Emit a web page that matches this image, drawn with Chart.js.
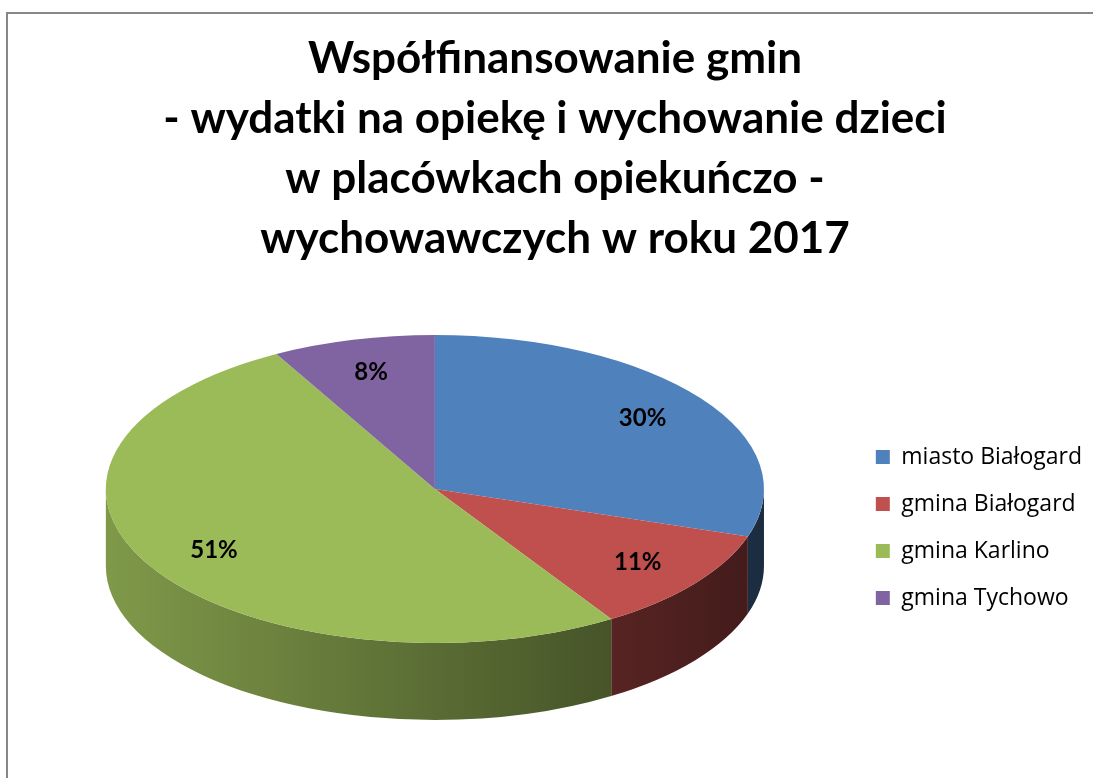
<!DOCTYPE html>
<html>
<head>
<meta charset="utf-8">
<script src="https://cdn.jsdelivr.net/npm/chart.js@4.4.1/dist/chart.umd.min.js"></script>
<style>
  html, body { margin: 0; padding: 0; background: #fff; }
  #wrap { position: relative; width: 1093px; height: 778px; overflow: hidden; }
  #frame { position: absolute; left: 6px; top: 12px; width: 1200px; height: 900px;
           border-left: 2px solid #878787; border-top: 2px solid #878787; }
  #chart { position: absolute; left: 0; top: 0; }
</style>
</head>
<body>
<div id="wrap">
  <div id="frame"></div>
  <canvas id="chart" width="1093" height="778"></canvas>
</div>
<script>
const titleLines = [
  "Współfinansowanie gmin",
  "- wydatki na opiekę i wychowanie dzieci",
  "w placówkach opiekuńczo -",
  "wychowawczych w roku 2017"
];
const categories = ["miasto Białogard", "gmina Białogard", "gmina Karlino", "gmina Tychowo"];
const shares = [30, 11, 51, 8];
const sliceColors = ["#4f81bd", "#c0504d", "#9bbb59", "#8064a2"];

// look of the tilted pie: height/width of the top face and thickness
const TILT = 0.468;
const DEPTH = 0.234;
const LABEL_POS = 0.78;

function shade(hex, f) {
  const n = parseInt(hex.slice(1), 16);
  const r = Math.round(((n >> 16) & 255) * f);
  const g = Math.round(((n >> 8) & 255) * f);
  const b = Math.round((n & 255) * f);
  return `rgb(${r},${g},${b})`;
}

const pie3d = {
  id: "pie3d",
  beforeDatasetsDraw(chart) {
    const ctx = chart.ctx;
    const area = chart.chartArea;
    const arcs = chart.getDatasetMeta(0).data;
    const rx = (area.bottom - area.top) / (2 * TILT + DEPTH);
    const ry = rx * TILT;
    const dz = rx * DEPTH;
    const cx = (area.left + area.right) / 2;
    const cy = area.top + ry;
    chart.$ell = { cx, cy, rx, ry, dz };

    // side walls, only the front half is visible
    arcs.forEach((arc, i) => {
      const s = Math.max(arc.startAngle, 0);
      const e = Math.min(arc.endAngle, Math.PI);
      if (e <= s) return;
      const grad = ctx.createLinearGradient(cx - rx, 0, cx + rx, 0);
      grad.addColorStop(0, shade(sliceColors[i], 0.82));
      grad.addColorStop(0.5, shade(sliceColors[i], 0.58));
      grad.addColorStop(1, shade(sliceColors[i], 0.34));
      ctx.beginPath();
      ctx.ellipse(cx, cy, rx, ry, 0, s, e);
      ctx.ellipse(cx, cy + dz, rx, ry, 0, e, s, true);
      ctx.closePath();
      ctx.fillStyle = grad;
      ctx.fill();
    });

    // squash the library's round pie onto the top face
    const a0 = arcs[0];
    const R = a0.outerRadius;
    ctx.save();
    ctx.translate(cx, cy);
    ctx.scale(rx / R, ry / R);
    ctx.translate(-a0.x, -a0.y);
  },
  afterDatasetsDraw(chart) {
    const ctx = chart.ctx;
    ctx.restore();
    const { cx, cy, rx, ry } = chart.$ell;
    const arcs = chart.getDatasetMeta(0).data;
    const total = shares.reduce((a, b) => a + b, 0);
    ctx.save();
    ctx.font = "bold 24px Lato";
    ctx.fillStyle = "#000";
    ctx.textAlign = "center";
    ctx.textBaseline = "middle";
    arcs.forEach((arc, i) => {
      const mid = (arc.startAngle + arc.endAngle) / 2;
      const x = cx + LABEL_POS * rx * Math.cos(mid);
      const y = cy + LABEL_POS * ry * Math.sin(mid);
      ctx.fillText(Math.round(shares[i] / total * 100) + "%", x, y);
    });
    ctx.restore();
  }
};

new Chart(document.getElementById("chart"), {
  type: "pie",
  data: {
    labels: categories,
    datasets: [{
      data: shares,
      backgroundColor: sliceColors,
      borderWidth: 0
    }]
  },
  options: {
    responsive: false,
    animation: false,
    events: [],
    layout: { padding: { left: 18, right: 1, top: 0, bottom: 58 } },
    plugins: {
      title: {
        display: true,
        text: titleLines,
        color: "#000",
        font: { family: "Lato", size: 44, weight: "bold", lineHeight: 60 / 44 },
        padding: { top: 29, bottom: 66 }
      },
      legend: {
        position: "right",
        fullSize: false,
        labels: {
          boxWidth: 14,
          boxHeight: 14,
          padding: 24,
          color: "#000",
          font: { family: "Open Sans", size: 23 }
        }
      },
      tooltip: { enabled: false }
    }
  },
  plugins: [pie3d]
});
</script>
</body>
</html>
